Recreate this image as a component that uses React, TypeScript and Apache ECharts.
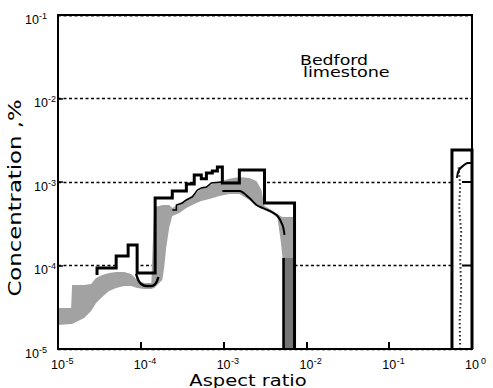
import React, { useEffect, useRef } from 'react';
import * as echarts from 'echarts';

// ---- axes ----
const xMin = 1e-5;
const xMax = 1;
const yMin = 1e-5;
const yMax = 1e-1;
const xExponents = ['-5', '-4', '-3', '-2', '-1', '0'];
const yExponents = ['-5', '-4', '-3', '-2', '-1'];
const yEndExponents = ['-5', '-1'];

// ---- outer step envelope (thick black line) ----
const stepEdges = [2.96e-5, 5.04e-5, 7.03e-5, 9.03e-5, 1.49e-4, 2.40e-4, 3.55e-4, 4.42e-4, 5.38e-4, 6.20e-4, 7.31e-4, 8.41e-4, 9.66e-4, 1.55e-3, 3.12e-3, 7.19e-3];
const stepLevels = [9.33e-5, 1.30e-4, 1.76e-4, 8.13e-5, 6.43e-4, 7.80e-4, 9.46e-4, 1.21e-3, 1.09e-3, 1.28e-3, 1.35e-3, 1.51e-3, 9.73e-4, 1.39e-3, 5.61e-4];
const stepStartLevel = 7.7e-5;

// ---- grey stippled band ----
const bandX = [1.0e-5, 1.44e-5, 1.48e-5, 2.07e-5, 2.51e-5, 2.88e-5, 3.41e-5, 4.14e-5, 5.04e-5, 6.30e-5, 7.66e-5, 9.03e-5, 1.10e-4, 1.34e-4, 1.45e-4, 1.67e-4, 1.82e-4, 1.92e-4, 2.03e-4, 2.21e-4, 2.40e-4, 2.92e-4, 3.55e-4, 4.42e-4, 5.38e-4, 6.73e-4, 8.89e-4, 1.17e-3, 1.55e-3, 2.05e-3, 2.49e-3, 2.87e-3, 3.12e-3, 3.79e-3, 4.48e-3, 4.88e-3, 5.15e-3, 7.19e-3];
const bandHi = [3.10e-5, 3.10e-5, 5.84e-5, 5.84e-5, 6.00e-5, 7.08e-5, 7.69e-5, 8.13e-5, 8.36e-5, 8.36e-5, 7.91e-5, 6.70e-5, 6.17e-5, 6.17e-5, 5.02e-4, 5.16e-4, 5.31e-4, 5.31e-4, 5.31e-4, 5.31e-4, 4.89e-4, 5.46e-4, 6.26e-4, 7.18e-4, 8.24e-4, 9.21e-4, 1.0e-3, 1.09e-3, 1.15e-3, 1.12e-3, 1.03e-3, 8.02e-4, 5.16e-4, 4.62e-4, 4.14e-4, 3.92e-4, 3.81e-4, 3.81e-4];
const bandLo = [1.94e-5, 1.99e-5, 1.99e-5, 2.35e-5, 2.85e-5, 3.56e-5, 4.20e-5, 4.95e-5, 5.38e-5, 5.68e-5, 5.68e-5, 5.38e-5, 5.24e-5, 5.24e-5, 5.38e-5, 6.17e-5, 6.70e-5, 9.60e-5, 1.67e-4, 2.89e-4, 3.92e-4, 4.25e-4, 4.89e-4, 5.46e-4, 5.92e-4, 6.26e-4, 6.80e-4, 7.18e-4, 7.18e-4, 6.09e-4, 5.31e-4, 4.89e-4, 4.62e-4, 4.25e-4, 3.71e-4, 2.02e-4, 1.23e-4, 1.23e-4];

// ---- dark column near 6e-3 ----
const columnX = [5.15e-3, 7.19e-3];
const columnLo = [1e-5, 1e-5];
const columnHi = [1.23e-4, 1.23e-4];
const columnEdgeX = [5.3e-3, 5.3e-3];
const columnEdgeY = [1.23e-4, 1e-5];

// ---- inner dark traces ----
const troughX = [8.79e-5, 9.31e-5, 1.01e-4, 1.16e-4, 1.37e-4, 1.53e-4, 1.63e-4];
const troughY = [7.91e-5, 6.70e-5, 6.00e-5, 5.68e-5, 5.68e-5, 6.17e-5, 7.28e-5];
const stairX = [2.40e-4, 2.69e-4, 2.69e-4, 3.17e-4, 3.55e-4, 4.19e-4, 4.82e-4, 5.38e-4, 6.20e-4, 7.11e-4, 9.39e-4];
const stairY = [4.62e-4, 4.62e-4, 5.31e-4, 5.61e-4, 6.09e-4, 6.61e-4, 8.02e-4, 8.47e-4, 8.71e-4, 9.73e-4, 1.0e-3];
const curveX = [9.66e-4, 1.55e-3, 2.05e-3, 2.49e-3, 2.95e-3, 3.58e-3, 4.48e-3, 5.15e-3, 5.44e-3];
const curveY = [7.8e-4, 7.8e-4, 6.43e-4, 5.31e-4, 4.89e-4, 4.50e-4, 3.92e-4, 3.05e-4, 2.32e-4];

// ---- right box near aspect ratio 1 ----
const boxEdges = [0.573, 1.0];
const boxLevel = 2.42e-3;
const boxTraceX = [0.69, 0.72, 0.70, 0.74, 0.72, 0.74, 0.71, 0.72];
const boxTraceY = [1.5e-3, 9e-4, 5e-4, 2.5e-4, 1.2e-4, 5e-5, 2.2e-5, 1.05e-5];
const boxCapX = [0.658, 0.696, 0.778, 0.895, 0.97];
const boxCapY = [1.12e-3, 1.39e-3, 1.56e-3, 1.69e-3, 1.69e-3];
const boxMarkX = [0.757, 1.0];
const boxMarkLevels = [1e-3, 1e-4];

const FONT = '"DejaVu Sans", sans-serif';

function lineSeries(xs: number[], ys: number[], width: number, z: number, extra: any = {}) {
  const { lineStyle, ...rest } = extra;
  return {
    type: 'line',
    data: xs.map((x, i) => [x, ys[i]]),
    symbol: 'none',
    silent: true,
    z,
    ...rest,
    lineStyle: { color: '#000', width, join: 'miter', ...(lineStyle || {}) },
  };
}

function polygonSeries(xs: number[], his: number[], los: number[], fill: string, z: number) {
  return {
    type: 'custom',
    z,
    silent: true,
    clip: true,
    data: xs.map((x, i) => [x, los[i], his[i]]),
    encode: { x: 0, y: [1, 2] },
    renderItem: (params: any, api: any) => {
      if (params.dataIndex !== 0) return null;
      const top = xs.map((x, i) => api.coord([x, his[i]]));
      const bot = xs.map((x, i) => api.coord([x, los[i]])).reverse();
      return {
        type: 'polygon',
        shape: { points: top.concat(bot) },
        style: { fill, stroke: null, lineWidth: 0 },
      };
    },
  };
}

export default function App() {
  const ref = useRef<HTMLDivElement>(null);
  useEffect(() => {
    if (!ref.current) return;
    const chart = echarts.init(ref.current, null, { renderer: 'svg' });

    const stepPts: number[][] = [[stepEdges[0], stepStartLevel]];
    stepLevels.forEach((lv, i) => {
      stepPts.push([stepEdges[i], lv]);
      stepPts.push([stepEdges[i + 1], lv]);
    });
    stepPts.push([stepEdges[stepEdges.length - 1], yMin]);

    const boxPts = [
      [boxEdges[0], yMin],
      [boxEdges[0], boxLevel],
      [boxEdges[1], boxLevel],
      [boxEdges[1], yMin],
    ];

    const expMap = (arr: string[]) => (v: number) => {
      const e = Math.round(Math.log10(v));
      const s = arr.find((a) => Number(a) === e);
      return s === undefined ? '' : s;
    };
    const xExp = expMap(xExponents);
    const yExp = expMap(yExponents);

    const richX = {
      p: { width: 9, lineHeight: 15, fontSize: 9 },
      b: { fontSize: 12.5, fontFamily: 'Liberation Sans', color: '#000', lineHeight: 12, verticalAlign: 'bottom' },
      s: { fontSize: 9, fontFamily: 'Liberation Sans', color: '#000', lineHeight: 8, verticalAlign: 'top', width: 9, align: 'left' },
    };
    const richY = {
      p: { width: 0, lineHeight: 15, fontSize: 9 },
      q: { width: 9, fontSize: 9 },
      b: { fontSize: 12.5, fontFamily: 'Liberation Sans', color: '#000', lineHeight: 12, verticalAlign: 'bottom' },
      s: { fontSize: 9, fontFamily: 'Liberation Sans', color: '#000', lineHeight: 8, verticalAlign: 'top' },
    };

    const option: any = {
      animation: false,
      grid: { left: 58, right: 21, top: 15, bottom: 39, show: true, borderColor: '#000', borderWidth: 2, backgroundColor: 'transparent' },
      xAxis: {
        type: 'log', logBase: 10, min: xMin, max: xMax, z: 10,
        axisLine: { show: true, lineStyle: { color: '#000', width: 2 } },
        axisTick: { show: true, inside: true, length: 7, lineStyle: { color: '#000', width: 2 } },
        splitLine: { show: false },
        minorTick: { show: false },
        axisLabel: {
          margin: 7,
          formatter: (v: number) => `{p| }{b|10}{s|${xExp(v)}}`,
          rich: richX,
        },
      },
      yAxis: [
        {
          type: 'log', logBase: 10, min: yMin, max: yMax, z: 0,
          axisLine: { show: false }, axisTick: { show: false }, axisLabel: { show: false },
          splitLine: { show: true, lineStyle: { color: '#000', width: 1.4, type: [3, 2.5] } },
        },
        {
          type: 'log', logBase: 10, min: yMin, max: yMax, z: 10, position: 'left',
          axisLine: { show: true, lineStyle: { color: '#000', width: 2 } },
          axisTick: { show: true, inside: true, length: 5, lineStyle: { color: '#000', width: 1.5 } },
          splitLine: { show: false },
          axisLabel: {
            margin: 2,
            padding: [7, 0, 0, 0],
            formatter: (v: number) => {
              const e = yExp(v);
              const tail = yEndExponents.includes(e) ? '{q| }' : '';
              return `{p| }{b|10}{s|${e}}${tail}`;
            },
            rich: richY,
          },
        },
      ],
      series: [
        {
          type: 'line', data: stepPts, symbol: 'none', silent: true, z: 1,
          lineStyle: { width: 0, opacity: 0 },
          areaStyle: { color: '#fff', opacity: 1, origin: 'start' },
        },
        {
          type: 'line', data: boxPts, symbol: 'none', silent: true, z: 1,
          lineStyle: { width: 0, opacity: 0 },
          areaStyle: { color: '#fff', opacity: 1, origin: 'start' },
        },
        polygonSeries(bandX, bandHi, bandLo, '#a2a2a2', 2),
        polygonSeries(columnX, columnHi, columnLo, '#757575', 3),
        lineSeries(troughX, troughY, 2.5, 4, { smooth: 0.25 }),
        lineSeries(stairX, stairY, 1.5, 4),
        lineSeries(curveX, curveY, 2, 4, { smooth: 0.3 }),
        lineSeries(columnEdgeX, columnEdgeY, 2.5, 4),
        lineSeries(boxTraceX, boxTraceY, 2, 4, { lineStyle: { type: [1.5, 2.5], color: '#222' } }),
        lineSeries(boxCapX, boxCapY, 2, 4, { smooth: 0.4 }),
        ...boxMarkLevels.map((lv) => lineSeries(boxMarkX, [lv, lv], 2, 4)),
        {
          type: 'line', data: stepPts, symbol: 'none', silent: true, z: 5,
          lineStyle: { color: '#000', width: 3, join: 'miter' },
        },
        {
          type: 'line', data: boxPts, symbol: 'none', silent: true, z: 5,
          lineStyle: { color: '#000', width: 3, join: 'miter' },
        },
      ],
      graphic: [
        {
          type: 'text', x: 300, y: 60, scaleX: 1.24, z: 20,
          style: { text: 'Bedford', font: `14px ${FONT}`, fill: '#000', align: 'left', textAlign: 'left', verticalAlign: 'middle', textVerticalAlign: 'middle' },
        },
        {
          type: 'text', x: 303, y: 72, scaleX: 1.26, z: 20,
          style: { text: 'limestone', font: `14px ${FONT}`, fill: '#000', align: 'left', textAlign: 'left', verticalAlign: 'middle', textVerticalAlign: 'middle' },
        },
        {
          type: 'text', x: 248, y: 380, scaleX: 1.22, z: 20,
          style: { text: 'Aspect ratio', font: `16px ${FONT}`, fill: '#000', align: 'center', textAlign: 'center', verticalAlign: 'middle', textVerticalAlign: 'middle' },
        },
        {
          type: 'text', x: 15, y: 198, scaleX: 1.34, rotation: Math.PI / 2, z: 20,
          style: { text: 'Concentration ,%', font: `17px ${FONT}`, fill: '#000', align: 'center', textAlign: 'center', verticalAlign: 'middle', textVerticalAlign: 'middle' },
        },
      ],
    };

    chart.setOption(option);
    return () => chart.dispose();
  }, []);

  return <div ref={ref} style={{ position: 'fixed', left: 0, top: 0, width: 493, height: 388, background: '#fff' }} />;
}
